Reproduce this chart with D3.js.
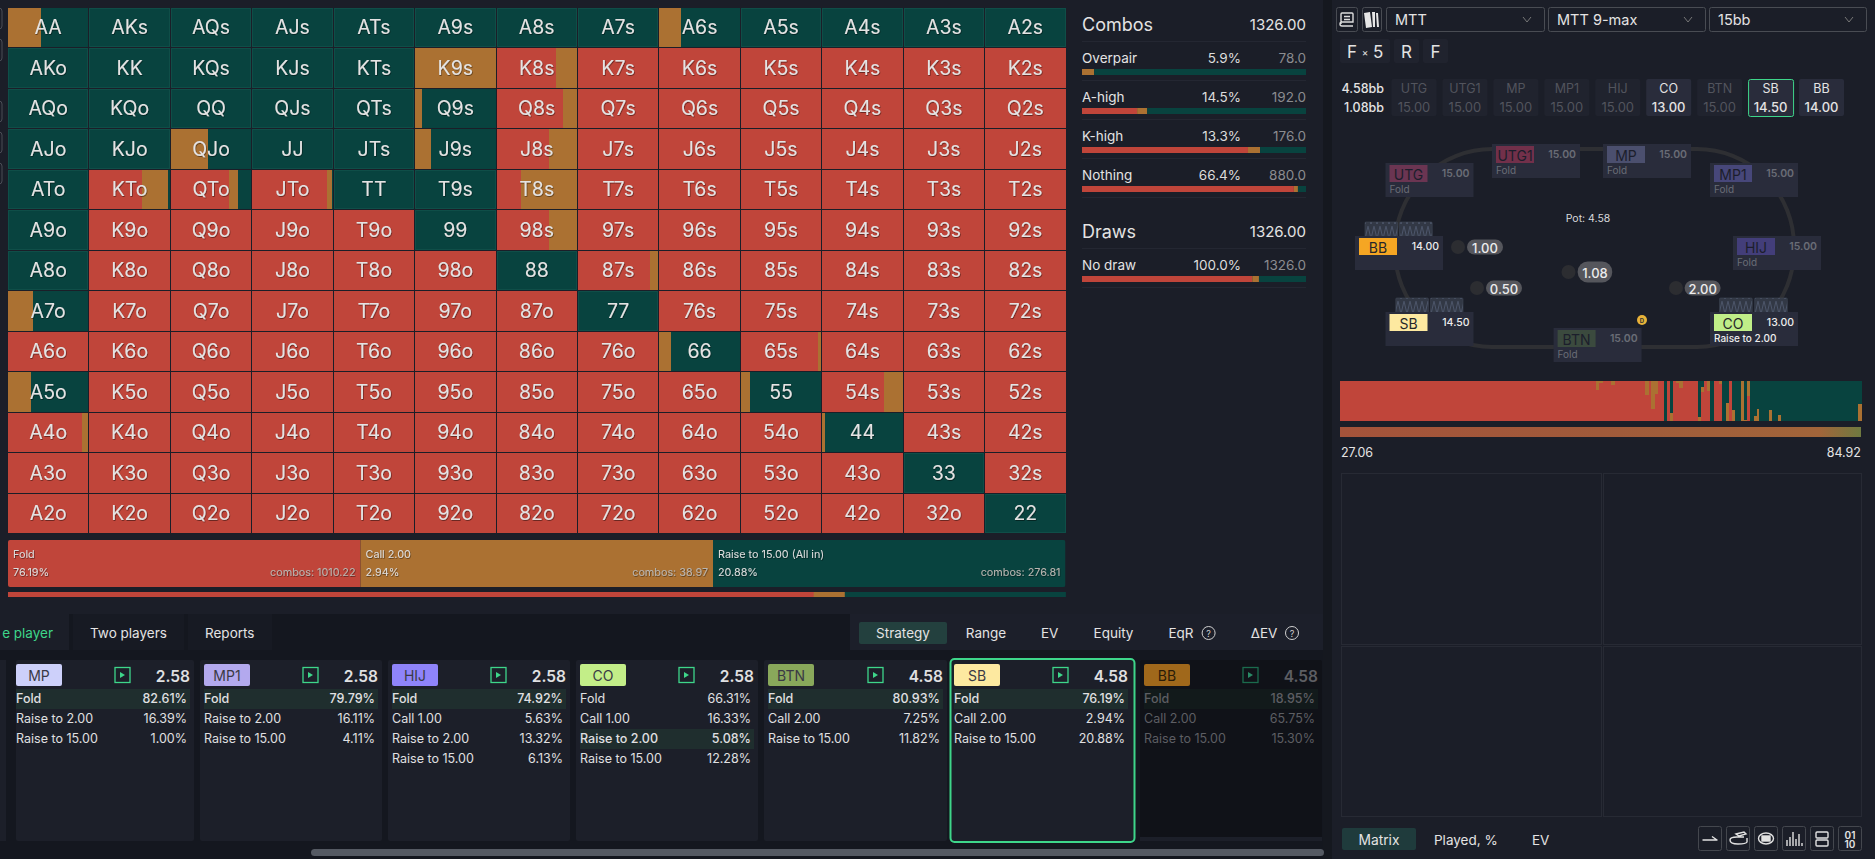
<!DOCTYPE html>
<html><head><meta charset="utf-8">
<script src="https://cdn.jsdelivr.net/npm/d3@7"></script>
<style>
html,body{margin:0;padding:0;background:#1b1e28;overflow:hidden}
svg{display:block;font-family:Inter,"Noto Sans",sans-serif}
</style></head><body>
<svg id="c" width="1875" height="859"></svg>
<script>
// ---------- data ----------
const ranks = ["A","K","Q","J","T","9","8","7","6","5","4","3","2"];
const foldPct = [
 [0,0,0,0,0,0,0,0,0,0,0,0,0],
 [0,0,0,0,0,0,74,100,100,100,100,100,100],
 [0,0,0,0,0,0,83,100,100,100,100,100,100],
 [0,0,0,0,0,0,65,100,100,100,100,100,100],
 [0,65,72,93,0,0,31,100,100,100,100,100,100],
 [0,100,100,100,100,0,65,100,100,100,100,100,100],
 [0,100,100,100,100,100,0,90,100,100,100,100,100],
 [0,100,100,100,100,100,100,0,100,100,100,100,100],
 [100,100,100,100,100,100,100,100,0,96,100,100,100],
 [0,100,100,100,100,100,100,100,100,0,77,100,100],
 [92,100,100,100,100,100,100,100,100,100,0,100,100],
 [100,100,100,100,100,100,100,100,100,100,100,0,100],
 [100,100,100,100,100,100,100,100,100,100,100,100,0]
];
const callPct = [
 [41,0,0,0,0,0,0,0,27,0,0,0,0],
 [0,0,0,0,0,100,26,0,0,0,0,0,0],
 [0,0,0,0,0,9,17,0,0,0,0,0,0],
 [0,0,46,0,0,20,35,0,0,0,0,0,0],
 [0,33,12,6,0,0,69,0,0,0,0,0,0],
 [0,0,0,0,0,0,35,0,0,0,0,0,0],
 [0,0,0,0,0,0,0,10,0,0,0,0,0],
 [31,0,0,0,0,0,0,0,0,0,0,0,0],
 [0,0,0,0,0,0,0,0,15,4,0,0,0],
 [28,0,0,0,0,0,0,0,0,12,23,0,0],
 [8,0,0,0,0,0,0,0,0,0,3,0,0],
 [0,0,0,0,0,0,0,0,0,0,0,0,0],
 [0,0,0,0,0,0,0,0,0,0,0,0,0]
];
const actionNames = ["Fold","Call 2.00","Raise to 15.00 (All in)"];
const actionPct = [76.19,2.94,20.88];
const actionCombos = [1010.22,38.97,276.81];

const statNames = ["Overpair","A-high","K-high","Nothing"];
const statPct = ["5.9%","14.5%","13.3%","66.4%"];
const statCombos = ["78.0","192.0","176.0","880.0"];
const statFold = [0,24.6,74.1,94.6];
const statCall = [5.4,4.5,5.4,1.8];
const drawNames = ["No draw"];
const drawPct = ["100.0%"];
const drawCombos = ["1326.0"];
const drawFold = [76];
const drawCall = [3];

const seatNames = ["UTG","UTG1","MP","MP1","HIJ","CO","BTN","SB","BB"];
const seatStacks = ["15.00","15.00","15.00","15.00","15.00","13.00","15.00","14.50","14.00"];
const seatActs = ["Fold","Fold","Fold","Fold","Fold","Raise to 2.00","Fold","",""];
const betValues = ["1.00","0.50","2.00","1.08"];

const histFold = [
100,100,100,100,100,100,100,100,100,100,
100,100,100,100,100,100,100,100,100,100,
100,100,100,100,100,100,100,100,100,100,
100,100,100,100,100,100,100,100,100,100,
100,100,100,100,100,100,100,100,100,100,
100,100,100,100,100,100,100,100,100,100,
100,100,100,100,100,100,100,100,100,100,
100,100,100,100,100,100,100,100,100,100,
100,100,100,77,95,100,100,100,90,100,
100,100,100,100,100,100,100,100,100,65,
100,30,67,100,100,0,100,0,100,95,
83,100,100,100,100,100,0,73,100,75,
0,100,100,92,0,0,100,0,0,0,
0,0,63,0,0,0,0,0,0,0,
0,0,0,0,0,0,0,0,0,0,
0,0,0,0,0,0,0,0,0,0,
0,0,0,0,0,0,0,0,0];
const histCall = [
0,0,0,0,0,0,0,0,0,0,
0,0,0,0,0,0,0,0,0,0,
0,0,0,0,0,0,0,0,0,0,
0,0,0,0,0,0,0,0,0,0,
0,0,0,0,0,0,0,0,0,0,
0,0,0,0,0,0,0,0,0,0,
0,0,0,0,0,0,0,0,0,0,
0,0,0,0,0,0,0,0,0,0,
0,0,0,23,5,0,0,0,10,0,
0,0,0,0,0,0,0,0,0,35,
0,70,33,0,0,0,0,21,0,5,
17,0,0,0,0,0,11,12,0,25,
0,0,0,8,0,45,0,27,0,0,
100,3,36,0,12,30,0,0,0,27,
0,0,15,0,0,0,0,0,0,0,
0,0,0,0,0,0,0,0,0,0,
0,0,0,0,0,0,0,0,42];
const evLow = "27.06", evHigh = "84.92";

const cardNames = ["MP","MP1","HIJ","CO","BTN","SB","BB"];
const cardEv = ["2.58","2.58","2.58","2.58","4.58","4.58","4.58"];
const cardLabels = [
 ["Fold","Raise to 2.00","Raise to 15.00"],
 ["Fold","Raise to 2.00","Raise to 15.00"],
 ["Fold","Call 1.00","Raise to 2.00","Raise to 15.00"],
 ["Fold","Call 1.00","Raise to 2.00","Raise to 15.00"],
 ["Fold","Call 2.00","Raise to 15.00"],
 ["Fold","Call 2.00","Raise to 15.00"],
 ["Fold","Call 2.00","Raise to 15.00"]];
const cardValues = [
 ["82.61%","16.39%","1.00%"],
 ["79.79%","16.11%","4.11%"],
 ["74.92%","5.63%","13.32%","6.13%"],
 ["66.31%","16.33%","5.08%","12.28%"],
 ["80.93%","7.25%","11.82%"],
 ["76.19%","2.94%","20.88%"],
 ["18.95%","65.75%","15.30%"]];
const cardHighlight = [0,0,0,2,0,0,0];

// ---------- styles / layout ----------
const RED="#c0453a", GOLD="#ab7132", GREEN="#08433f", FG="#e4e3e3";
const svg=d3.select("#c");
const defs=svg.append("defs");
function R(g,x,y,w,h,fill,o={}){const r=g.append("rect").attr("x",x).attr("y",y).attr("width",w).attr("height",h).attr("fill",fill);
 if(o.r!=null)r.attr("rx",o.r); if(o.stroke)r.attr("stroke",o.stroke).attr("stroke-width",o.sw||1); if(o.op!=null)r.attr("opacity",o.op); return r;}
function T(g,x,y,s,size,fill,o={}){return g.append("text").attr("x",x).attr("y",y).text(s).attr("font-size",size).attr("fill",fill)
 .attr("text-anchor",o.a||"start").attr("dominant-baseline","central").attr("font-weight",o.w||400);}
const shadow=defs.append("filter").attr("id","sh").attr("x","-5%").attr("y","-5%").attr("width","110%").attr("height","110%");
shadow.append("feDropShadow").attr("dx",0.6).attr("dy",0.8).attr("stdDeviation",0.6).attr("flood-color","#000").attr("flood-opacity",0.55);

// backgrounds
R(svg,0,0,1875,859,"#1b1e28");
R(svg,0,614,1323,245,"#14171f");
R(svg,1323,0,9,859,"#15181f");
// clipped side icons at the far left
[[8,21],[39,22],[101,21],[132,21],[163,21]].forEach(d=>R(svg,-20,d[0],22,d[1],"none",{r:3,stroke:"#4a4d55"}));

// ---------- matrix ----------
const cx=d3.scaleBand().domain(d3.range(13)).range([8,1065.5]).paddingInner(0.012);
const cy=d3.scaleBand().domain(d3.range(13)).range([8,533]).paddingInner(0.025);
const cells=[];
ranks.forEach((a,i)=>ranks.forEach((b,j)=>{
 const name=i===j?a+a:(i<j?a+b+"s":b+a+"o");
 cells.push({i,j,name,fold:foldPct[i][j],call:callPct[i][j],raise:100-foldPct[i][j]-callPct[i][j]});
}));
const gCell=svg.append("g").attr("shape-rendering","crispEdges");
const share=d3.scaleLinear().domain([0,100]).range([0,cx.bandwidth()]);
const cellStack=d3.stack().keys(["fold","call","raise"]);
const layers=cellStack(cells);
const colors=[RED,GOLD,GREEN];
layers.forEach((l,k)=>{
 gCell.selectAll(null).data(l).join("rect")
  .attr("x",d=>cx(d.data.j)+share(d[0])).attr("y",d=>cy(d.data.i))
  .attr("width",d=>share(d[1]-d[0])).attr("height",cy.bandwidth()).attr("fill",colors[k]);
});
// faint outline on hands that are pure raises
gCell.selectAll(null).data(cells.filter(d=>d.raise===100)).join("rect")
 .attr("x",d=>cx(d.j)+.5).attr("y",d=>cy(d.i)+.5).attr("width",cx.bandwidth()-1).attr("height",cy.bandwidth()-1)
 .attr("fill","none").attr("stroke","#0f4e48");
const gLab=svg.append("g").attr("filter","url(#sh)");
gLab.selectAll(null).data(cells).join("text")
 .attr("x",d=>cx(d.j)+cx.bandwidth()/2).attr("y",d=>cy(d.i)+cy.bandwidth()/2-0.3)
 .attr("text-anchor","middle").attr("dominant-baseline","central")
 .attr("font-size",19.5).attr("fill",FG).text(d=>d.name);

// ---------- action bar ----------
const barX=d3.scaleBand().domain(d3.range(3)).range([8,1065.5]);
const gAct=svg.append("g");
const barClip=defs.append("clipPath").attr("id","barclip");
barClip.append("rect").attr("x",8).attr("y",540).attr("width",1057.5).attr("height",47).attr("rx",2);
const gActBars=gAct.append("g").attr("clip-path","url(#barclip)");
gActBars.selectAll(null).data(actionNames).join("rect").attr("x",(d,i)=>barX(i)).attr("y",540)
 .attr("width",barX.bandwidth()).attr("height",47).attr("fill",(d,i)=>colors[i]);
const gActT=svg.append("g").attr("filter","url(#sh)");
actionNames.forEach((n,i)=>{
 const x=barX(i);
 T(gActT,x+5,554.5,n,10.8,"#dcdcdc");
 T(gActT,x+5,572.5,actionPct[i].toFixed(2)+"%",10.8,"#dcdcdc");
 T(gActT,x+barX.bandwidth()-5,572.5,"combos: "+actionCombos[i].toFixed(2),10.8,"#b9b5b0",{a:"end"});
});
const pX=d3.scaleLinear().domain([0,100]).range([8,1065.5]);
const gP=svg.append("g");
let acc=0;
actionPct.forEach((v,i)=>{R(gP,pX(acc),592,pX(acc+v)-pX(acc)+0.3,5,colors[i]);acc+=v;});

// ---------- stats ----------
const gS=svg.append("g");
const sx=d3.scaleLinear().domain([0,100]).range([1082,1306]);
function statBlock(title,total,names,pcts,combos,fold,call,ys,hdrY,sepHdr){
 T(gS,1082,hdrY,title,18,FG);
 T(gS,1306,hdrY+0.5,total,15,FG,{a:"end"});
 R(gS,1082,sepHdr,224,1,"#242732");
 names.forEach((n,i)=>{
  const y=ys(i);
  T(gS,1082,y,n,13.5,FG);
  T(gS,1241,y,pcts[i],13.5,"#dddddd",{a:"end"});
  T(gS,1306,y,combos[i],13.5,"#8b8c90",{a:"end"});
  const segs=[fold[i],call[i],100-fold[i]-call[i]];let a=0;
  segs.forEach((v,k)=>{R(gS,sx(a),y+11,sx(a+v)-sx(a),6,colors[k]);a+=v;});
  R(gS,1082,y+22,224,1,"#242732");
 });
}
statBlock("Combos","1326.00",statNames,statPct,statCombos,statFold,statCall,i=>58+39*i,24,41);
statBlock("Draws","1326.00",drawNames,drawPct,drawCombos,drawFold,drawCall,i=>265,231,248);

// ---------- right toolbar ----------
const gTb=svg.append("g");
R(gTb,1336.5,7.5,21,24,"none",{r:2,stroke:"#494c53"});
R(gTb,1362.5,7.5,19,24,"none",{r:2,stroke:"#494c53"});
gTb.append("path").attr("d","M1342 13h10a1 1 0 0 1 1 1v8h-11a2 2 0 0 0 0 4h11M1342 13a1 1 0 0 0-1 1v10M1344 16.5h6M1344 19.5h6").attr("fill","none").attr("stroke","#ddd").attr("stroke-width",1.4);
gTb.append("path").attr("d","M1364 13l6-1 2 15-6 1zM1372 12l3 0 0 15-2 0zM1376 13l2 0 1 14-2 0z").attr("fill","#e6e6e6");
const ddX=[1386,1548,1709], ddW=[158,157,157], ddLabels=["MTT","MTT 9-max","15bb"];
ddLabels.forEach((s,i)=>{
 R(gTb,ddX[i]+.5,7.5,ddW[i],24,"none",{r:2,stroke:"#494c53"});
 T(gTb,ddX[i]+9,19.5,s,14.5,FG);
 const c=ddX[i]+ddW[i]-17;
 gTb.append("path").attr("d",`M${c-4} 17l4 5 4-5`).attr("fill","none").attr("stroke","#777").attr("stroke-width",1);
});
[[1340,50],[1394,25],[1423,25]].forEach(d=>R(gTb,d[0],39,d[1],24,"#20232e",{r:2}));
T(gTb,1347,51.5,"F",17,FG);T(gTb,1365,52,"×",10,FG,{a:"middle"});T(gTb,1373,51.5,"5",17,FG);
T(gTb,1406.5,51.5,"R",17,FG,{a:"middle"});T(gTb,1435.5,51.5,"F",17,FG,{a:"middle"});

T(gTb,1384,88,"4.58bb",12.5,FG,{a:"end",w:500});T(gTb,1384,107,"1.08bb",12.5,FG,{a:"end",w:500});
const chipX=d3.scaleLinear().domain([0,8]).range([1391.5,1799]);
const activeSeats=["CO","SB","BB"];
seatNames.forEach((n,i)=>{
 const act=activeSeats.includes(n), x=chipX(i), sel=n==="SB";
 R(gTb,x+(sel?.5:0),79+(sel?.5:0),45,37,act?"#292c3b":"#20232e",{r:2,stroke:sel?"#3ed68a":null});
 T(gTb,x+22.5,88,n,12.5,act?FG:"#52545d",{a:"middle"});
 T(gTb,x+22.5,107,seatStacks[i],13,act?FG:"#52545d",{a:"middle",w:act?500:400});
});

// ---------- table ----------
const gTable=svg.append("g");
R(gTable,1395,149,399,198,"none",{r:97,stroke:"#2e2f33",sw:4});
const seatPos={UTG:[1385.5,163],UTG1:[1492,144],MP:[1603,144],MP1:[1710,163],HIJ:[1733,236],CO:[1710,312],BTN:[1553.6,328],SB:[1385.5,312],BB:[1355,236]};
const badgeCol={UTG:"#6b3552",UTG1:"#72304a",MP:"#4b4f6e",MP1:"#47477a",HIJ:"#433e7a",CO:"#c0ee88",BTN:"#3b4a3e",SB:"#fde9a0",BB:"#f5a623"};
const zig=defs.append("pattern").attr("id","zig").attr("width",6).attr("height",15).attr("patternUnits","userSpaceOnUse");
zig.append("rect").attr("width",6).attr("height",15).attr("fill","#323845");
zig.append("path").attr("d","M0 1L3 14L6 1").attr("fill","none").attr("stroke","#58617a").attr("stroke-width",.7);
[[1365,1399.6,222],[1395.8,1430.4,298],[1719.6,1754.7,298]].forEach(d=>{
 R(gTable,d[0],d[2],32.6,15,"url(#zig)",{r:1,stroke:"#3f4656",sw:.6});
 R(gTable,d[1],d[2],32.6,15,"url(#zig)",{r:1,stroke:"#3f4656",sw:.6});
});
seatNames.forEach((n,i)=>{
 const p=seatPos[n], act=activeSeats.includes(n);
 R(gTable,p[0],p[1],88,34,"#292c3b");
 R(gTable,p[0]+4,p[1]+2,38,17,badgeCol[n]);
 T(gTable,p[0]+23,p[1]+11,n,14,act?"#26262a":"#1c1e2c",{a:"middle"});
 T(gTable,p[0]+84,p[1]+10.5,seatStacks[i],10.5,act?"#ededed":"#6a6c76",{a:"end",w:act?500:600});
 if(seatActs[i]) T(gTable,p[0]+4,p[1]+26,seatActs[i],10,act?"#ededed":"#6a6c76",{w:act?500:400});
});
T(gTable,1588,218,"Pot: 4.58",10.5,"#d9dadd",{a:"middle"});
const chips=[[1458,247,1467,36,15],[1477,288,1486,36,15],[1676,288,1684.6,36,15],[1568.5,272,1577.7,34.5,21]];
betValues.forEach((v,i)=>{
 const d=chips[i];
 gTable.append("circle").attr("cx",d[0]).attr("cy",d[1]).attr("r",7).attr("fill","#2c2d31");
 R(gTable,d[2],d[1]-d[4]/2,d[3],d[4],"#55565c",{r:Math.min(d[4]/2,10)});
 T(gTable,d[2]+d[3]/2,d[1]+.5,v,13,"#ececec",{a:"middle",w:500});
});
gTable.append("circle").attr("cx",1642).attr("cy",320).attr("r",5).attr("fill","#e8b339");
T(gTable,1642,320.5,"D",6,"#333",{a:"middle",w:700});

// ---------- EV histogram ----------
const gH=svg.append("g");
const hx=d3.scaleBand().domain(d3.range(169)).range([1340,1861]);
const hy=d3.scaleLinear().domain([0,100]).range([421,381]);
const hist=histFold.map((f,i)=>({i,fold:f,call:histCall[i],raise:100-f-histCall[i]}));
const gHb=gH.append("g").attr("shape-rendering","crispEdges");
R(gHb,1340,381,521,40,GREEN);
d3.stack().keys(["fold","call","raise"])(hist).forEach((l,k)=>{
 gHb.selectAll(null).data(l).join("rect")
  .attr("x",d=>hx(d.data.i)).attr("width",hx.bandwidth()+.5)
  .attr("y",d=>hy(d[1])).attr("height",d=>hy(d[0])-hy(d[1])).attr("fill",colors[k]);
});
const grad=defs.append("linearGradient").attr("id","evg");
[[0,"#a5533a"],[.5,"#a05a3a"],[.92,"#a2653a"],[1,"#6f7a40"]].forEach(s=>grad.append("stop").attr("offset",s[0]).attr("stop-color",s[1]));
R(gH,1340,427,521,10,"url(#evg)");
T(gH,1341,452,evLow,12.5,FG);T(gH,1861,452,evHigh,12.5,FG,{a:"end"});

// empty panels
[[1341,473,260,171],[1603,473,258,171],[1341,646,260,170],[1603,646,258,170]].forEach(d=>R(gH,d[0]+.5,d[1]+.5,d[2],d[3],"none",{stroke:"#272a34"}));

// bottom-right tabs
const gBr=svg.append("g");
R(gBr,1342,828,74,22,"#1f3b3c",{r:2});
T(gBr,1379,839.5,"Matrix",13.8,FG,{a:"middle"});
T(gBr,1434,839.5,"Played, %",13.5,FG);T(gBr,1532,839.5,"EV",13.5,FG);
const iconX=[1698,1726,1754,1782,1810,1838];
iconX.forEach(x=>R(gBr,x+.5,826.5,23,24,"none",{r:2,stroke:"#44474e"}));
const ic=gBr.append("g").attr("fill","none").attr("stroke","#e2e2e2").attr("stroke-width",1.4);
ic.append("path").attr("d","M1702.5 840h15M1712 836.5l5 3.5");
ic.append("path").attr("d","M1730 840q0-3 7-3t7 0M1730 840q0 4 8 4t9-2v-4M1736 834l8-2 2 2-7 2z");
ic.append("ellipse").attr("cx",1766).attr("cy",838.5).attr("rx",7.5).attr("ry",5.5);
ic.append("rect").attr("x",1762).attr("y",836).attr("width",8).attr("height",5).attr("fill","#e2e2e2");
ic.append("path").attr("d","M1787 846v-6M1790 846v-9M1793 846v-14M1796 846v-7M1799 846v-12M1802 846v-3");
ic.append("rect").attr("x",1816).attr("y",832).attr("width",12).attr("height",6).attr("rx",1);
ic.append("rect").attr("x",1816).attr("y",840).attr("width",12).attr("height",6).attr("rx",1);
T(gBr,1850,834.5,"01",10,"#e2e2e2",{a:"middle",w:600});T(gBr,1850,844,"10",10,"#e2e2e2",{a:"middle",w:600});

// ---------- bottom-left tabs ----------
const gTabs=svg.append("g");
R(gTabs,0,614,69,36,"#1b1e28");R(gTabs,73,614,111,36,"#171a23");R(gTabs,188,614,84,36,"#171a23");
T(gTabs,53,632.5,"e player",13.5,"#3ed68a",{a:"end"});
T(gTabs,90,632.5,"Two players",13.5,FG);T(gTabs,205,632.5,"Reports",13.5,FG);
R(gTabs,850,614,473,36,"#1c1f2a");
R(gTabs,859,622,88,22,"#23403e",{r:2});
const tabNames=["Strategy","Range","EV","Equity","EqR","ΔEV"];
const tabCx=[903,986,1049.6,1113.5,1181,1264];
tabNames.forEach((s,i)=>T(gTabs,tabCx[i],632.5,s,13.5,FG,{a:"middle"}));
[1208.6,1292].forEach(x=>{
 gTabs.append("circle").attr("cx",x).attr("cy",633).attr("r",6.5).attr("fill","none").attr("stroke","#cfcfcf");
 T(gTabs,x,633.5,"?",9,"#cfcfcf",{a:"middle"});
});

// ---------- strategy cards ----------
const gCards=svg.append("g");
R(gCards,0,660,6,181,"#1c1f29");
const cardX=[16,200,388,576,764,950,1140], cardW=[178,182,182,182,183,185,182];
const bCol=["#cdd0fa","#b3a9ee","#8f84fb","#c3ee88","#89a85b","#fde9a0","#a0681b"];
cardNames.forEach((n,i)=>{
 const x=cardX[i], w=cardW[i], sel=n==="SB", dim=n==="BB";
 const inset=i===0?0:4, tc=dim?"#5d5e63":"#e0e0e2";
 R(gCards,x,660,w,181,dim?"#101218":"#1c1f29",{r:2});
 if(dim) R(gCards,x,837,w,4,"#1c1f29");
 const bx=x+inset;
 R(gCards,bx,664,46,22,bCol[i],{r:2});
 T(gCards,bx+23,675,n,14,dim?"#2a1c08":"#3a3a45",{a:"middle"});
 const right=x+w-(sel?7:4);
 T(gCards,right,676,cardEv[i],15.5,tc,{a:"end",w:600});
 R(gCards,right-75,667.5,15,15,"none",{stroke:dim?"#1b6b4d":"#3ed68a",sw:1.3});
 gCards.append("path").attr("d",`M${right-70} 672l5 3-5 3z`).attr("fill",dim?"#2a8a66":"#3ed68a");
 cardLabels[i].forEach((lab,k)=>{
  const y=698+20*k, hi=cardHighlight[i]===k;
  if(hi) R(gCards,bx,689+20*k,right-bx,20,dim?"#121a1b":"#1f2e2e");
  T(gCards,bx,y,lab,12.5,tc,{w:hi?500:400});
  T(gCards,right-3,y,cardValues[i][k],12.5,tc,{a:"end",w:hi?500:400});
 });
 if(sel) R(gCards,x+.5,659,w-1,183,"none",{r:4,stroke:"#3ed68a",sw:2});
});
R(gCards,311,849,1013,7,"#555a63",{r:3.5});
</script>
</body></html>
